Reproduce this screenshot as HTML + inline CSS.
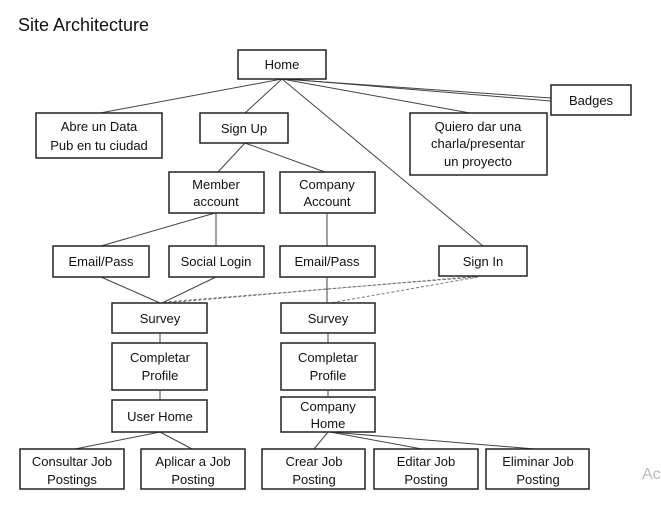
<!DOCTYPE html>
<html><head><meta charset="utf-8"><style>
html,body{margin:0;padding:0;background:#fff;}
svg{display:block;}
text{font-family:"Liberation Sans",Arial,sans-serif;font-size:13px;fill:#111;text-anchor:middle;}
rect{fill:#fff;stroke:#222;stroke-width:1.5;}
line{stroke:#444;stroke-width:1;}
.d{stroke:#777;stroke-dasharray:3,2;}
</style></head><body>
<svg width="661" height="531" viewBox="0 0 661 531">
<text x="18" y="31" style="font-size:18px;text-anchor:start">Site Architecture</text>
<!-- connectors -->
<line x1="282" y1="79" x2="100" y2="113"/>
<line x1="282" y1="79" x2="245" y2="113"/>
<line x1="282" y1="79" x2="483" y2="246"/>
<line x1="282" y1="79" x2="470" y2="113"/>
<line x1="282" y1="79" x2="551" y2="98"/>
<line x1="287" y1="79" x2="551" y2="101"/>
<line x1="245" y1="143" x2="218" y2="172"/>
<line x1="245" y1="143" x2="325" y2="172"/>
<line x1="215" y1="213" x2="101" y2="246"/>
<line x1="216" y1="213" x2="216" y2="246"/>
<line x1="327" y1="213" x2="327" y2="246"/>
<line x1="101" y1="277" x2="160" y2="303"/>
<line x1="216" y1="277" x2="162" y2="303"/>
<line x1="327" y1="277" x2="327" y2="303"/>
<line class="d" x1="480" y1="276" x2="165" y2="303"/>
<line class="d" x1="476" y1="277" x2="165" y2="302"/>
<line class="d" x1="478" y1="277" x2="330" y2="303"/>
<line x1="160" y1="333" x2="160" y2="343"/>
<line x1="160" y1="390" x2="160" y2="400"/>
<line x1="328" y1="333" x2="328" y2="343"/>
<line x1="328" y1="390" x2="328" y2="397"/>
<line x1="160" y1="432" x2="75" y2="449"/>
<line x1="160" y1="432" x2="192" y2="449"/>
<line x1="328" y1="432" x2="314" y2="449"/>
<line x1="330" y1="432" x2="422" y2="449"/>
<line x1="330" y1="432" x2="535" y2="449"/>
<!-- boxes -->
<rect x="238" y="50" width="88" height="29"/><text x="282" y="69">Home</text>
<rect x="551" y="85" width="80" height="30"/><text x="591" y="105">Badges</text>
<rect x="36" y="113" width="126" height="45"/><text x="99" y="131">Abre un Data</text><text x="99" y="150">Pub en tu ciudad</text>
<rect x="200" y="113" width="88" height="30"/><text x="244" y="133">Sign Up</text>
<rect x="410" y="113" width="137" height="62"/><text x="478" y="131">Quiero dar una</text><text x="478" y="148">charla/presentar</text><text x="478" y="166">un proyecto</text>
<rect x="169" y="172" width="95" height="41"/><text x="216" y="189">Member</text><text x="216" y="206">account</text>
<rect x="280" y="172" width="95" height="41"/><text x="327" y="189">Company</text><text x="327" y="206">Account</text>
<rect x="53" y="246" width="96" height="31"/><text x="101" y="266">Email/Pass</text>
<rect x="169" y="246" width="95" height="31"/><text x="216" y="266">Social Login</text>
<rect x="280" y="246" width="95" height="31"/><text x="327" y="266">Email/Pass</text>
<rect x="439" y="246" width="88" height="30"/><text x="483" y="266">Sign In</text>
<rect x="112" y="303" width="95" height="30"/><text x="160" y="323">Survey</text>
<rect x="281" y="303" width="94" height="30"/><text x="328" y="323">Survey</text>
<rect x="112" y="343" width="95" height="47"/><text x="160" y="362">Completar</text><text x="160" y="380">Profile</text>
<rect x="281" y="343" width="94" height="47"/><text x="328" y="362">Completar</text><text x="328" y="380">Profile</text>
<rect x="112" y="400" width="95" height="32"/><text x="160" y="421">User Home</text>
<rect x="281" y="397" width="94" height="35"/><text x="328" y="411">Company</text><text x="328" y="428">Home</text>
<rect x="20" y="449" width="104" height="40"/><text x="72" y="466">Consultar Job</text><text x="72" y="484">Postings</text>
<rect x="141" y="449" width="104" height="40"/><text x="193" y="466">Aplicar a Job</text><text x="193" y="484">Posting</text>
<rect x="262" y="449" width="103" height="40"/><text x="314" y="466">Crear Job</text><text x="314" y="484">Posting</text>
<rect x="374" y="449" width="104" height="40"/><text x="426" y="466">Editar Job</text><text x="426" y="484">Posting</text>
<rect x="486" y="449" width="103" height="40"/><text x="538" y="466">Eliminar Job</text><text x="538" y="484">Posting</text>
<text x="642" y="479" style="font-size:16px;fill:#bbb;text-anchor:start">Ac</text>
</svg>
</body></html>
